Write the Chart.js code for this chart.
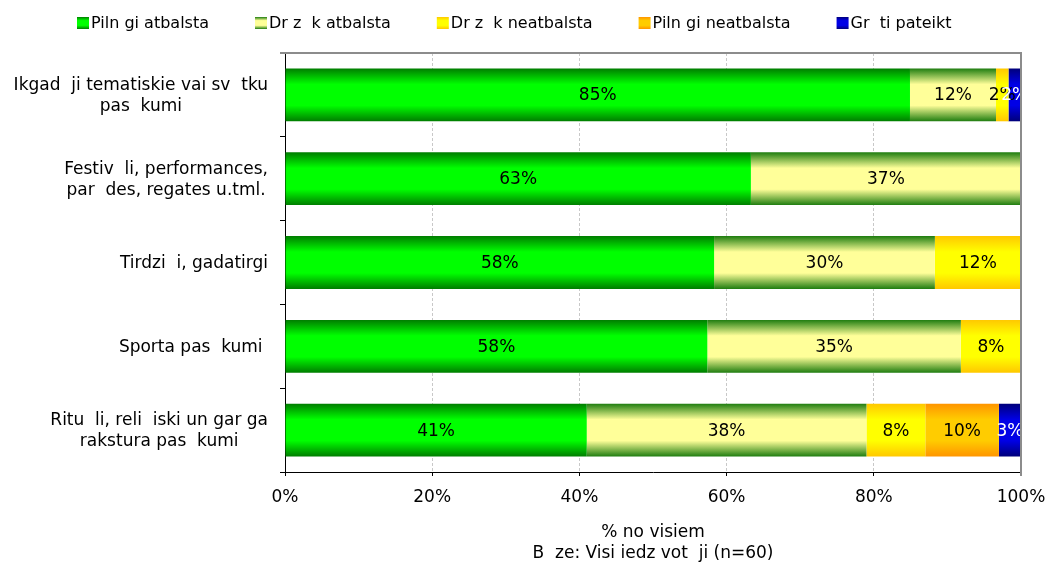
<!DOCTYPE html>
<html><head><meta charset="utf-8">
<script src="https://cdn.jsdelivr.net/npm/chart.js@4.4.0/dist/chart.umd.min.js"></script>
<style>html,body{margin:0;padding:0;background:#fff;}#wrap{width:1049px;height:565px;}</style>
</head><body><div id="wrap"><canvas id="c" width="1049" height="565"></canvas></div>
<script>
const categories = [
  ['Ikgad  ji tematiskie vai sv  tku', 'pas  kumi'],
  ['Festiv  li, performances,', 'par  des, regates u.tml.'],
  ['Tirdzi  i, gadatirgi'],
  ['Sporta pas  kumi '],
  ['Ritu  li, reli  iski un gar ga', 'rakstura pas  kumi']
];
const seriesNames = ['Piln gi atbalsta', 'Dr z  k atbalsta', 'Dr z  k neatbalsta', 'Piln gi neatbalsta', 'Gr  ti pateikt'];
const fullySupport      = [85, 63.3, 58.3, 58.3, 41];
const ratherSupport     = [11.7, 36.7, 30, 35, 38];
const ratherNotSupport  = [1.7, 0, 11.7, 8.3, 8];
const notSupportAtAll   = [0, 0, 0, 0, 10];
const hardToSay         = [1.7, 0, 0, 0, 3];
const xTickValues = [0, 20, 40, 60, 80, 100];
const xTitle = ['% no visiem', 'B  ze: Visi iedz vot  ji (n=60)'];

const edgeColors   = ['#007d00', '#1f7d10', '#ffc800', '#ff9500', '#00007a'];
const centerColors = ['#00ff00', '#ffff99', '#ffff00', '#ffcc00', '#0000e6'];
const labelColors  = ['#000', '#000', '#000', '#000', '#fff'];
const FONT = '"DejaVu Sans", sans-serif';
const BAR_PCT = 0.63;

const seriesValues = [fullySupport, ratherSupport, ratherNotSupport, notSupportAtAll, hardToSay];
const rowTotals = categories.map((_, i) => seriesValues.reduce((s, arr) => s + arr[i], 0));

function addStops(g, edge, center) {
  g.addColorStop(0, edge); g.addColorStop(0.3, center); g.addColorStop(0.7, center); g.addColorStop(1, edge);
  return g;
}
function barGradient(si) {
  return (ctx) => {
    const chart = ctx.chart, y = chart.scales && chart.scales.y;
    if (ctx.type !== 'data' || !y || !chart.chartArea) return centerColors[si];
    const c = y.getPixelForValue(ctx.dataIndex);
    const h = y.height / categories.length * BAR_PCT;
    return addStops(chart.ctx.createLinearGradient(0, c - h / 2, 0, c + h / 2), edgeColors[si], centerColors[si]);
  };
}

const datasets = seriesValues.map((arr, si) => ({
  label: seriesNames[si],
  raw: arr,
  data: arr.map((v, i) => v / rowTotals[i] * 100),
  backgroundColor: barGradient(si),
  borderWidth: 0,
  categoryPercentage: 1,
  barPercentage: BAR_PCT
}));

const decor = {
  id: 'decor',
  afterDatasetsDraw(chart) {
    const { ctx, chartArea: a } = chart;
    ctx.save();
    ctx.beginPath(); ctx.rect(a.left, a.top, a.right - a.left, a.bottom - a.top); ctx.clip();
    ctx.font = '17px ' + FONT; ctx.textAlign = 'center'; ctx.textBaseline = 'middle';
    chart.data.datasets.forEach((ds, di) => {
      const meta = chart.getDatasetMeta(di);
      meta.data.forEach((el, i) => {
        const v = ds.raw[i];
        if (!v) return;
        ctx.fillStyle = labelColors[di];
        ctx.fillText(Math.round(v) + '%', (el.x + el.base) / 2, el.y + 1);
      });
    });
    ctx.restore();
    ctx.save();
    ctx.strokeStyle = '#8c8c8c'; ctx.lineWidth = 2;
    ctx.beginPath(); ctx.moveTo(a.left - 5, a.top); ctx.lineTo(a.right, a.top); ctx.lineTo(a.right, a.bottom + 4); ctx.stroke();
    ctx.restore();
  },
  afterDraw(chart) {
    const { ctx } = chart;
    const y = chart.scales.y;
    ctx.save();
    ctx.font = '17px ' + FONT; ctx.fillStyle = '#000'; ctx.textAlign = 'center'; ctx.textBaseline = 'middle';
    const right = y.right - 17;
    categories.forEach((lines, i) => {
      const cy = y.getPixelForValue(i);
      const w = Math.max(...lines.map(l => ctx.measureText(l).width));
      lines.forEach((l, k) => ctx.fillText(l, right - w / 2, cy + 1 + (k - (lines.length - 1) / 2) * 21));
    });
    // legend
    ctx.font = '16px ' + FONT; ctx.textAlign = 'left';
    let x = 77; const top = 17;
    seriesNames.forEach((name, si) => {
      ctx.fillStyle = addStops(ctx.createLinearGradient(0, top, 0, top + 12), edgeColors[si], centerColors[si]);
      ctx.fillRect(x, top, 12, 12);
      ctx.fillStyle = '#000';
      ctx.fillText(name, x + 14, top + 6.5);
      x += 14 + ctx.measureText(name).width + 46;
    });
    ctx.restore();
  }
};

Chart.defaults.font.family = FONT;
Chart.defaults.color = '#000';

new Chart(document.getElementById('c'), {
  type: 'bar',
  data: { labels: categories, datasets },
  options: {
    indexAxis: 'y',
    responsive: false,
    animation: false,
    layout: { padding: { top: 53, right: 28, left: 0, bottom: 0 } },
    plugins: { legend: { display: false }, tooltip: { enabled: false } },
    scales: {
      x: {
        stacked: true, min: 0, max: 100,
        afterBuildTicks: (s) => { s.ticks = xTickValues.map(v => ({ value: v })); },
        afterFit: (s) => { s.height = 93; s.paddingLeft = 0; s.paddingRight = 0; },
        ticks: { callback: (v) => v + '%', font: { size: 17 }, padding: 11, maxRotation: 0 },
        grid: {
          color: (c) => (c.tick && (c.tick.value === 0 || c.tick.value === 100)) ? 'rgba(0,0,0,0)' : '#c8c8c8',
          tickColor: '#000', tickLength: 4, lineWidth: 1
        },
        border: { color: '#000', width: 1, dash: [3, 2] },
        title: { display: true, text: xTitle, font: { size: 17, lineHeight: 1.235 }, padding: { top: 0, bottom: 1 } }
      },
      y: {
        stacked: true,
        afterFit: (s) => { s.width = 285; },
        ticks: { display: false },
        grid: { drawOnChartArea: false, offset: true, tickColor: '#000', tickLength: 5 },
        border: { color: '#000', width: 1 }
      }
    }
  },
  plugins: [decor]
});
</script>
</body></html>
